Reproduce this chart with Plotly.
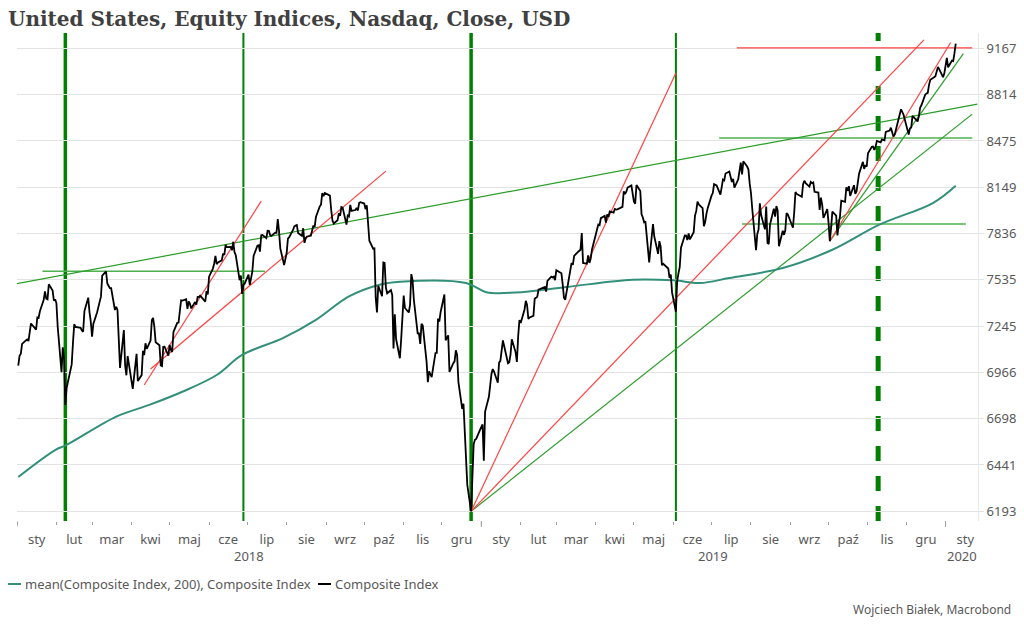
import math
import pandas as pd
import plotly.graph_objects as go

# ---------------- data ----------------
close_2018 = [
    7006.90, 7065.53, 7077.91, 7136.56, 7157.39, 7163.58, 7153.57, 7211.78, 7261.06, 7223.69, 7298.28,
    7296.05, 7336.38, 7408.03, 7460.29, 7415.06, 7411.16, 7505.77, 7466.51, 7402.48, 7411.48,
    7385.86, 7240.95, 6967.53, 7115.88, 7051.98, 6777.16, 6874.49, 6981.96, 7013.51, 7143.62,
    7256.43, 7239.47, 7234.31, 7218.23, 7210.09, 7337.39, 7421.46, 7330.35, 7273.01,
    7180.56, 7257.87, 7330.70, 7372.01, 7396.65, 7427.95, 7560.81, 7588.32, 7511.01, 7496.81,
    7481.74, 7481.99, 7344.24, 7364.30, 7345.29, 7166.68, 6992.67, 7220.54, 7008.81, 6949.23, 7063.45,
    6870.12, 6941.28, 7042.11, 7076.55, 6915.11, 6950.34, 7094.30, 7069.03, 7140.25, 7106.65,
    7156.28, 7281.10, 7295.24, 7238.06, 7146.13, 7128.60, 7007.35, 7003.74, 7118.68, 7119.80, 7066.27,
    7130.70, 7100.90, 7088.15, 7209.62, 7265.21, 7266.90, 7339.91, 7404.97, 7402.88, 7411.32, 7351.63,
    7398.30, 7382.47, 7354.34, 7394.04, 7378.46, 7425.96, 7424.43, 7433.85, 7396.59, 7462.45, 7442.12,
    7554.33, 7606.46, 7637.86, 7689.24, 7635.07, 7645.51, 7659.93, 7703.79, 7695.70, 7761.04, 7746.38,
    7747.03, 7725.59, 7781.51, 7712.95, 7692.82, 7532.01, 7561.63, 7445.08, 7503.68, 7510.30,
    7567.69, 7502.67, 7586.43, 7688.39, 7756.20, 7759.20, 7716.61, 7823.92, 7825.98, 7805.72, 7855.12,
    7854.44, 7825.30, 7820.20, 7841.87, 7840.77, 7932.24, 7852.18, 7737.42, 7630.00, 7671.79,
    7707.29, 7802.69, 7812.02, 7859.68, 7883.66, 7888.33, 7891.78, 7839.11, 7819.71, 7870.89, 7774.12,
    7806.52, 7816.33, 7821.01, 7859.17, 7889.10, 7878.46, 7945.98, 8017.90, 8030.04, 8109.54, 8088.36, 8109.69,
    8091.25, 7995.17, 7922.73, 7902.54, 7924.16, 7972.47, 7954.23, 8013.71, 8010.04, 7895.79,
    7956.11, 7950.04, 8028.23, 7986.96, 7993.25, 8007.47, 7990.37, 8041.97, 8046.35,
    8037.30, 7999.55, 8025.09, 7879.51, 7788.45, 7735.95, 7738.02, 7422.05, 7329.06, 7496.89, 7430.74,
    7645.49, 7642.70, 7485.14, 7449.03, 7468.63, 7437.54, 7108.40, 7318.34, 7167.21, 7050.29, 7161.65, 7305.90,
    7434.06, 7356.99, 7328.85, 7375.96, 7570.75, 7530.88, 7406.90, 7200.87, 7200.84, 7136.39, 7259.03,
    7247.87, 7028.48, 6908.82, 6972.25, 6938.98, 7081.85, 7082.70, 7291.59, 7273.08, 7330.54,
    7441.51, 7158.43, 7188.26, 6969.25, 7020.52, 7031.83, 7098.31, 7070.33, 6910.67, 6753.73,
    6783.91, 6636.83, 6528.41, 6332.99, 6192.92, 6554.36, 6579.49, 6584.52, 6635.28,
]
close_2019 = [
    6665.94, 6463.50, 6738.86, 6823.47, 6897.00, 6957.08, 6986.07, 6971.48, 6905.92, 7023.83, 7034.69,
    7084.46, 7157.23, 7020.36, 7025.77, 7073.46, 7164.86, 7085.68, 7028.29, 7183.08, 7281.74,
    7263.87, 7347.54, 7402.08, 7375.28, 7288.35, 7298.20, 7307.90, 7414.62, 7420.38, 7426.95,
    7472.41, 7486.77, 7489.07, 7459.71, 7527.54, 7554.46, 7549.30, 7554.51, 7532.53,
    7595.35, 7577.57, 7576.36, 7505.92, 7421.46, 7408.14, 7558.06, 7591.03, 7643.41, 7630.91, 7688.53,
    7714.48, 7723.95, 7728.97, 7838.96, 7642.67, 7637.54, 7691.52, 7643.38, 7669.17, 7729.32,
    7828.91, 7848.69, 7895.55, 7891.78, 7938.69, 7953.88, 7909.28, 7964.24, 7947.36, 7984.16, 7976.01,
    8000.23, 7996.08, 7998.06, 8015.27, 8120.82, 8102.01, 8118.68, 8146.40, 8161.85, 8095.39,
    8049.64, 8036.77, 8164.00, 8123.29, 7963.76, 7943.32, 7910.59, 7916.94, 7647.02, 7734.49, 7822.15,
    7898.05, 7816.28, 7702.38, 7785.72, 7750.84, 7628.28, 7637.01, 7607.35, 7547.31, 7567.72, 7453.15,
    7333.02, 7527.12, 7575.48, 7615.55, 7742.10, 7823.17, 7822.57, 7792.72, 7837.13, 7796.66,
    7845.02, 7953.88, 7987.32, 8051.34, 8031.71, 8005.70, 7884.72, 7909.97, 7967.76, 8006.24,
    8091.16, 8109.09, 8170.23, 8161.79, 8098.38, 8141.73, 8202.53, 8196.04, 8244.14, 8258.19, 8222.80,
    8185.21, 8207.24, 8146.49, 8204.14, 8251.40, 8321.50, 8238.54, 8330.21, 8293.33, 8273.61, 8175.42,
    8111.12, 8004.07, 7726.04, 7833.27, 7862.83, 8039.16, 7959.14, 7863.41, 8016.36, 7773.94, 7766.62,
    7895.99, 8002.81, 7948.56, 8020.21, 7991.39, 7751.77, 7853.74, 7826.95, 7856.88, 7973.39, 7962.88,
    7874.16, 7976.88, 8116.83, 8103.07, 8087.44, 8084.16, 8169.68, 8194.47, 8176.71, 8153.54,
    8186.02, 8177.39, 8182.88, 8117.67, 8112.46, 7993.63, 8077.38, 8030.66, 7939.63, 7999.34,
    7908.68, 7785.25, 7872.27, 7982.47, 7956.29, 7823.78, 7903.74, 7950.78, 8057.04, 8048.65, 8148.71,
    8124.18, 8156.85, 8089.54, 8162.99, 8104.30, 8119.79, 8185.80, 8243.12, 8325.99, 8276.85, 8303.98, 8292.36,
    8386.40, 8433.20, 8434.68, 8410.63, 8434.52, 8475.31, 8464.28, 8486.09, 8482.10, 8479.02,
    8540.83, 8549.94, 8570.66, 8526.73, 8506.21, 8519.89, 8632.49, 8647.93, 8705.18, 8665.47,
    8567.99, 8520.64, 8566.67, 8570.70, 8656.53, 8621.83, 8616.18, 8654.05, 8717.32, 8734.88, 8814.23,
    8823.36, 8827.74, 8887.22, 8924.96, 8945.65, 8952.88, 9022.39, 9006.62, 8945.99, 8972.60,
]
close_2020 = [9092.19, 9020.77, 9071.47, 9068.58, 9129.24, 9203.43]

market_holidays = ['2018-01-01', '2018-01-15', '2018-02-19', '2018-03-30', '2018-05-28', '2018-07-04',
                   '2018-09-03', '2018-11-22', '2018-12-05', '2018-12-25', '2019-01-01', '2019-01-21',
                   '2019-02-18', '2019-04-19', '2019-05-27', '2019-07-04', '2019-09-02', '2019-11-28',
                   '2019-12-25', '2020-01-01']

ma_dates = ['2018-01-02', '2018-01-31', '2018-02-09', '2018-03-20', '2018-04-15', '2018-05-11',
            '2018-06-07', '2018-06-27', '2018-07-29', '2018-08-24', '2018-09-19', '2018-10-13',
            '2018-10-29', '2018-12-20', '2019-01-05', '2019-01-28', '2019-03-09', '2019-04-30',
            '2019-06-01', '2019-06-22', '2019-07-15', '2019-08-26', '2019-10-04', '2019-11-10',
            '2019-12-22', '2020-01-09']
ma_values = [6376, 6523, 6551, 6710, 6777, 6853, 6951, 7070, 7171, 7283, 7429, 7503,
             7522, 7514, 7456, 7454, 7489, 7535, 7531, 7514, 7546, 7610, 7729, 7895,
             8041, 8160]

# trend lines: start date, start value, end date, end value
red_start_dates = ['2018-04-11', '2018-04-16', '2018-12-24', '2018-12-24', '2019-10-02', '2019-07-21']
red_start_vals = [6892, 6986, 6193, 6193, 7785, 9170]
red_end_dates = ['2018-07-12', '2018-10-18', '2019-06-03', '2019-12-15', '2020-01-05', '2020-01-22']
red_end_vals = [8054, 8261, 8978, 9233, 9212, 9170]

green_start_dates = ['2018-01-01', '2018-12-24', '2019-10-02']
green_start_vals = [7510, 6193, 7785]
green_end_dates = ['2020-01-26', '2020-01-22', '2020-01-15']
green_end_vals = [8744, 8670, 9126]

level_start_dates = ['2018-01-21', '2019-07-07', '2019-07-25']
level_end_dates = ['2018-07-15', '2020-01-22', '2020-01-17']
level_vals = [7590, 8497, 7899]

vline_dates = ['2018-02-08', '2018-06-28', '2018-12-24', '2019-06-03', '2019-11-09']
vline_widths = [3.5, 2, 3.5, 2, 5]
vline_dash = ['solid', 'solid', 'solid', 'solid', 'dash']

y_ticks = [6193, 6441, 6698, 6966, 7245, 7535, 7836, 8149, 8475, 8814, 9167]
month_labels = ['sty', 'lut', 'mar', 'kwi', 'maj', 'cze', 'lip', 'sie', 'wrz', 'paź', 'lis', 'gru']
year_labels = ['2018', '2019', '2020']

# ---------------- geometry ----------------
W, H = 1024, 628
PL, PR, PT, PB = 17, 978, 33, 521
PW, PH = PR - PL, PB - PT
X_START = pd.Timestamp('2018-01-01')
X_END = pd.Timestamp('2020-01-26 12:00')


def fx(px):
    return (px - PL) / PW


def fy(py):
    return (PB - py) / PH


FONT = 'Noto Sans, Open Sans, sans-serif'
GREY = '#595959'

dates = pd.bdate_range('2018-01-02', '2020-01-09')
dates = dates[~dates.isin(pd.to_datetime(market_holidays))]
close = close_2018 + close_2019 + close_2020
assert len(dates) == len(close), (len(dates), len(close))

fig = go.Figure()

for sd, sv, ed, ev in zip(level_start_dates, level_vals, level_end_dates, level_vals):
    fig.add_trace(go.Scatter(x=[sd, ed], y=[sv, ev], mode='lines',
                             line=dict(color='#4fb04f', width=1.5), hoverinfo='skip', showlegend=False))
for sd, sv, ed, ev in zip(green_start_dates, green_start_vals, green_end_dates, green_end_vals):
    fig.add_trace(go.Scatter(x=[sd, ed], y=[sv, ev], mode='lines',
                             line=dict(color='#2a9d2a', width=1.2), hoverinfo='skip', showlegend=False))
for sd, sv, ed, ev in zip(red_start_dates, red_start_vals, red_end_dates, red_end_vals):
    fig.add_trace(go.Scatter(x=[sd, ed], y=[sv, ev], mode='lines',
                             line=dict(color='#ff4343', width=1.2), hoverinfo='skip', showlegend=False))

fig.add_trace(go.Scatter(x=ma_dates, y=ma_values, mode='lines', line_shape='spline',
                         line=dict(color='#32907a', width=2),
                         name='mean(Composite Index, 200), Composite Index', showlegend=False))
fig.add_trace(go.Scatter(x=dates, y=close, mode='lines',
                         line=dict(color='#000000', width=1.8),
                         name='Composite Index', showlegend=False))

shapes = []
for d, w, ds in zip(vline_dates, vline_widths, vline_dash):
    shapes.append(dict(type='line', xref='x', yref='paper', x0=d, x1=d, y0=0, y1=1,
                       line=dict(color='#008000', width=w, dash=ds), layer='below'))
# long ticks at year boundaries
for yr in ['2018-01-01', '2019-01-01', '2020-01-01']:
    shapes.append(dict(type='line', xref='x', yref='paper', x0=yr, x1=yr, y0=fy(PB), y1=fy(PB + 6),
                       line=dict(color='#a0a0a0', width=1)))

# month ticks / labels
month_starts = pd.date_range('2018-01-01', '2020-01-01', freq='MS')
mid_months = [m + (m + pd.offsets.MonthBegin(1) - m) / 2 for m in month_starts]
tick_text = [month_labels[m.month - 1] for m in month_starts]

annotations = []
year_centers = [pd.Timestamp('2018-07-02'), pd.Timestamp('2019-07-02'),
                pd.Timestamp('2020-01-01') + (X_END - pd.Timestamp('2020-01-01')) / 2]
for yc, yl in zip(year_centers, year_labels):
    annotations.append(dict(x=yc, xref='x', y=fy(556), yref='paper', text=yl, showarrow=False,
                            xanchor='center', yanchor='middle', font=dict(family=FONT, size=13, color=GREY)))

# legend
shapes.append(dict(type='line', xref='paper', yref='paper', x0=fx(8), x1=fx(21), y0=fy(584), y1=fy(584),
                   line=dict(color='#32907a', width=2)))
annotations.append(dict(x=fx(23), xref='paper', y=fy(584), yref='paper', showarrow=False,
                        text='mean(Composite Index, 200), Composite Index', xanchor='left', yanchor='middle',
                        font=dict(family=FONT, size=13, color=GREY)))
shapes.append(dict(type='line', xref='paper', yref='paper', x0=fx(318), x1=fx(331), y0=fy(584), y1=fy(584),
                   line=dict(color='#000000', width=2)))
annotations.append(dict(x=fx(333), xref='paper', y=fy(584), yref='paper', showarrow=False,
                        text='Composite Index', xanchor='left', yanchor='middle',
                        font=dict(family=FONT, size=13, color=GREY)))
# footer
annotations.append(dict(x=fx(1013), xref='paper', y=fy(609), yref='paper', showarrow=False,
                        text='Wojciech Białek, Macrobond', xanchor='right', yanchor='middle',
                        font=dict(family=FONT, size=12, color=GREY)))

fig.update_layout(
    width=W, height=H,
    margin=dict(l=PL, r=W - PR, t=PT, b=H - PB, autoexpand=False),
    paper_bgcolor='white', plot_bgcolor='white',
    title=dict(text='<b>United States, Equity Indices, Nasdaq, Close, USD</b>',
               x=8 / W, xref='container', xanchor='left',
               y=1 - 19 / H, yref='container', yanchor='middle',
               font=dict(family='DejaVu Serif, serif', size=20, color='#404040')),
    showlegend=False,
    shapes=shapes,
    annotations=annotations,
    xaxis=dict(type='date', range=[X_START, X_END], tickvals=mid_months, ticktext=tick_text,
               ticks='outside', ticklen=6, tickcolor='rgba(0,0,0,0)', showgrid=False, zeroline=False,
               showline=False, automargin=False,
               tickfont=dict(family=FONT, size=13, color=GREY),
               minor=dict(tickvals=list(month_starts), ticks='outside', ticklen=3, tickcolor='#a0a0a0',
                          tickwidth=1, showgrid=False)),
    yaxis=dict(type='log', side='right',
               range=[math.log10(6193) - 9.7 / 2718.6, math.log10(9167) + 15.3 / 2718.6],
               tickvals=y_ticks, ticktext=[str(v) for v in y_ticks],
               showgrid=True, gridcolor='#e3e3e3', gridwidth=1,
               ticks='outside', ticklen=5, tickcolor='#e3e3e3',
               showline=True, linecolor='#e8e8e8', linewidth=1, zeroline=False, automargin=False,
               tickfont=dict(family=FONT, size=13, color=GREY)),
)

fig.write_html('out.html', config={'displayModeBar': False},
               post_script="document.body.style.margin='0px';document.body.style.overflow='hidden';")
